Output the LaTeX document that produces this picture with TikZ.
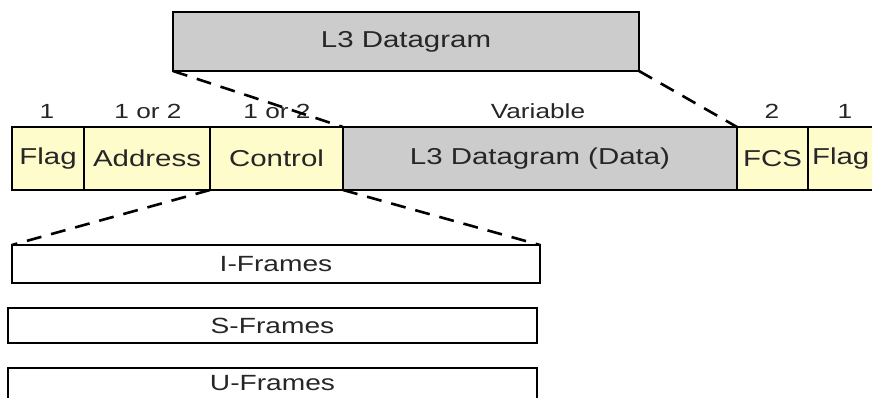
\documentclass[tikz,border=0pt]{standalone}
\usepackage{fontspec}
\setmainfont{Liberation Sans}[FakeStretch=1.28]
\begin{document}
\begin{tikzpicture}[x=1pt,y=-1pt,
  boxfont/.style={font=\fontsize{23}{26}\selectfont, text=black!85},
  field/.style={draw=black, line width=2.6pt, anchor=north west, inner sep=0pt, outer sep=0pt,
    minimum height=63pt, boxfont},
  yfield/.style={field, fill=yellow!20},
  gfield/.style={field, fill=black!20},
  framebox/.style={draw=black, line width=2.6pt, anchor=north west, inner sep=0pt, outer sep=0pt,
    fill=white, font=\fontsize{22}{25}\selectfont, text=black!85},
  size/.style={font=\fontsize{20.5}{23}\selectfont, text=black!85, inner sep=0pt},
  link/.style={line width=2.6pt, dash pattern=on 15pt off 10pt}]
\useasboundingbox (0,0) rectangle (872,398);
\clip (0,0) rectangle (872,398);

% encapsulated layer 3 datagram
\node[gfield, minimum width=466pt, minimum height=59pt] (top) at (173,12) {L3 Datagram};

% HDLC frame fields
\node[yfield, minimum width=72pt]  (flag1) at (12,127)  {Flag};
\node[yfield, minimum width=126pt] (addr)  at (84,127)  {Address};
\node[yfield, minimum width=133pt] (ctrl)  at (210,127) {Control};
\node[gfield, minimum width=394pt] (data)  at (343,127) {L3 Datagram (Data)};
\node[yfield, minimum width=71pt]  (fcs)   at (737,127) {FCS};
\node[yfield, minimum width=90pt, text width=86pt, align=left] (flag2) at (808,127) {\hspace*{2pt}Flag};

% field sizes in bytes
\node[size] (s1) at (47,111)  {1};
\node[size] (s2) at (148,111) {1 or 2};
\node[size] (s3) at (277,111) {1 or 2};
\node[size] (s4) at (538,111) {Variable};
\node[size] (s5) at (772,111) {2};
\node[size] (s6) at (845,111) {1};

% control field frame types
\node[framebox, minimum width=528pt, minimum height=38pt] (iframe) at (12,245) {I-Frames};
\node[framebox, minimum width=529pt, minimum height=35pt] (sframe) at (8,308)  {S-Frames};
\node[framebox, minimum width=529pt, minimum height=40pt, text depth=10pt] (uframe) at (8,368) {U-Frames};

% expansion lines
\draw[link] (top.south west) -- (data.north west);
\draw[link] (top.south east) -- (data.north east);
\draw[link] (ctrl.south west) -- (iframe.north west);
\draw[link] (ctrl.south east) -- (iframe.north east);
\end{tikzpicture}
\end{document}
